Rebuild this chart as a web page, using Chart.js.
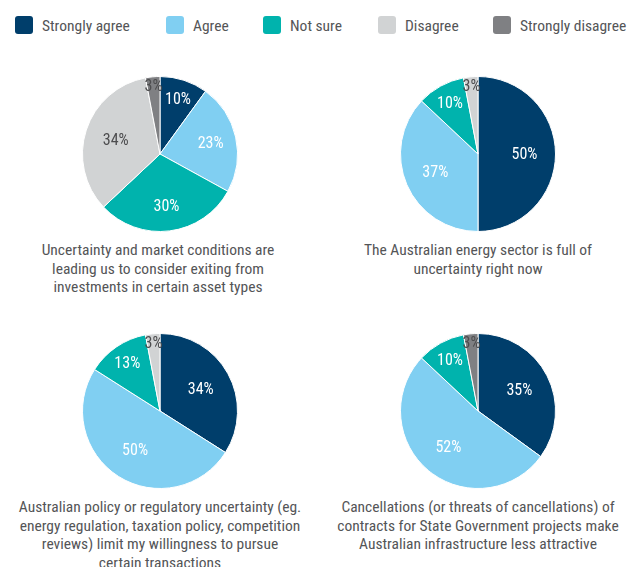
<!DOCTYPE html>
<html>
<head>
<meta charset="utf-8">
<script src="https://cdn.jsdelivr.net/npm/chart.js@4"></script>
<style>
  body { margin: 0; background: #fff; font-family: Roboto, sans-serif; font-stretch: condensed; color: #545557; }
  #wrap { position: relative; width: 637px; height: 567px; overflow: hidden; }
  .leg { position: absolute; top: 16px; height: 18px; font-size: 15.5px; line-height: 18px; white-space: nowrap; }
  .leg span { position: absolute; left: 0; top: 0; width: 18px; height: 18px; border-radius: 3px; }
  .leg b { font-weight: normal; position: absolute; top: 1px; left: 27px; }
  .pie { position: absolute; width: 156px; height: 156px; }
  .cap { position: absolute; width: 320px; text-align: center; font-size: 15.5px; line-height: 18.5px; }
</style>
</head>
<body>
<div id="wrap">
  <div class="leg" style="left:15px"><span style="background:#003e6b"></span><b>Strongly agree</b></div>
  <div class="leg" style="left:166px"><span style="background:#80cff2"></span><b>Agree</b></div>
  <div class="leg" style="left:263px"><span style="background:#00b3ad"></span><b>Not sure</b></div>
  <div class="leg" style="left:378px"><span style="background:#d1d3d4"></span><b>Disagree</b></div>
  <div class="leg" style="left:493px"><span style="background:#7f8083"></span><b>Strongly disagree</b></div>

  <div class="pie" style="left:82px;top:76px"><canvas id="pie1"></canvas></div>
  <div class="pie" style="left:400px;top:76px"><canvas id="pie2"></canvas></div>
  <div class="pie" style="left:82px;top:333px"><canvas id="pie3"></canvas></div>
  <div class="pie" style="left:400px;top:333px"><canvas id="pie4"></canvas></div>

  <div class="cap" style="left:-2px;top:241px">Uncertainty and market conditions are<br>leading us to consider exiting from<br>investments in certain asset types</div>
  <div class="cap" style="left:318px;top:241px">The Australian energy sector is full of<br>uncertainty right now</div>
  <div class="cap" style="left:0px;top:498px">Australian policy or regulatory uncertainty (eg.<br>energy regulation, taxation policy, competition<br>reviews) limit my willingness to pursue<br>certain transactions</div>
  <div class="cap" style="left:318px;top:498px">Cancellations (or threats of cancellations) of<br>contracts for State Government projects make<br>Australian infrastructure less attractive</div>
</div>

<script>
const categories = ['Strongly agree', 'Agree', 'Not sure', 'Disagree', 'Strongly disagree']
const colors = ['#003e6b', '#80cff2', '#00b3ad', '#d1d3d4', '#7f8083']

// percent of respondents, one list per statement
const exitingAssets = [10, 23, 30, 34, 3]
const energySector = [50, 37, 10, 3, 0]
const policyUncertainty = [34, 50, 13, 3, 0]
const cancellations = [35, 52, 10, 0, 3]

// write the % inside each slice
const sliceLabels = {
  id: 'sliceLabels',
  afterDatasetsDraw(chart) {
    const c = chart.ctx
    const meta = chart.getDatasetMeta(0)
    const vals = chart.data.datasets[0].data
    c.save()
    c.font = '16px Roboto, sans-serif'
    c.fontStretch = 'condensed'
    c.textAlign = 'center'
    c.textBaseline = 'middle'
    meta.data.forEach((arc, i) => {
      const v = vals[i]
      if (!v) return
      let f = 0.6
      if (v < 5) f = 0.88
      else if (v < 20) f = 0.75
      else if (v < 33) f = 0.67
      const mid = (arc.startAngle + arc.endAngle) / 2
      const x = arc.x + Math.cos(mid) * arc.outerRadius * f
      const y = arc.y + Math.sin(mid) * arc.outerRadius * f + 1
      c.fillStyle = i < 3 ? '#ffffff' : '#4d4d4f'
      c.fillText(v + '%', x, y)
    })
    c.restore()
  }
}

function makePie(id, values) {
  new Chart(document.getElementById(id), {
    type: 'pie',
    data: {
      labels: categories,
      datasets: [{
        data: values,
        backgroundColor: colors,
        borderColor: '#ffffff',
        borderWidth: 1
      }]
    },
    options: {
      responsive: true,
      maintainAspectRatio: false,
      animation: false,
      layout: { padding: 0 },
      plugins: {
        legend: { display: false },
        tooltip: { enabled: false }
      }
    },
    plugins: [sliceLabels]
  })
}

makePie('pie1', exitingAssets)
makePie('pie2', energySector)
makePie('pie3', policyUncertainty)
makePie('pie4', cancellations)
</script>
</body>
</html>
